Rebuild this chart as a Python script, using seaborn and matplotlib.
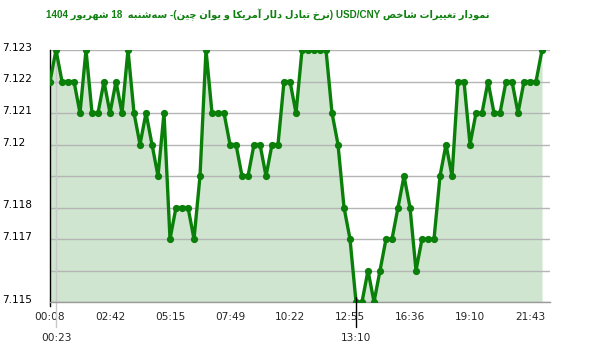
import re
import matplotlib
matplotlib.use("Agg")
import matplotlib.pyplot as plt
import matplotlib.transforms as mtransforms
import seaborn as sns
import pandas as pd

title = "نمودار تغییرات شاخص USD/CNY (نرخ تبادل دلار آمریکا و یوان چین)- سه\u200cشنبه  18 شهریور 1404"

rate = [7.122, 7.123, 7.122, 7.122, 7.122, 7.121, 7.123, 7.121, 7.121, 7.122,
        7.121, 7.122, 7.121, 7.123, 7.121, 7.120, 7.121, 7.120, 7.119, 7.121,
        7.117, 7.118, 7.118, 7.118, 7.117, 7.119, 7.123, 7.121, 7.121, 7.121,
        7.120, 7.120, 7.119, 7.119, 7.120, 7.120, 7.119, 7.120, 7.120, 7.122,
        7.122, 7.121, 7.123, 7.123, 7.123, 7.123, 7.123, 7.121, 7.120, 7.118,
        7.117, 7.115, 7.115, 7.116, 7.115, 7.116, 7.117, 7.117, 7.118, 7.119,
        7.118, 7.116, 7.117, 7.117, 7.117, 7.119, 7.120, 7.119, 7.122, 7.122,
        7.120, 7.121, 7.121, 7.122, 7.121, 7.121, 7.122, 7.122, 7.121, 7.122,
        7.122, 7.122, 7.123]

time_pos = [0, 10, 20, 30, 40, 50, 60, 70, 80]
time_lab = ["00:08", "02:42", "05:15", "07:49", "10:22", "12:55", "16:36", "19:10", "21:43"]
extra_pos = [1, 51]
extra_lab = ["00:23", "13:10"]

ytick_vals = [7.115, 7.117, 7.118, 7.12, 7.121, 7.122, 7.123]
ytick_lab = ["7.115", "7.117", "7.118", "7.12", "7.121", "7.122", "7.123"]
ygrid_vals = [7.116, 7.119]

# --- tiny persian shaper, matplotlib draws no contextual forms ---
# letter: (isolated, final, initial, medial); two entries = joins only to the right
FORMS = {
    'ا': ('\uFE8D', '\uFE8E'), 'آ': ('\uFE81', '\uFE82'),
    'د': ('\uFEA9', '\uFEAA'), 'ذ': ('\uFEAB', '\uFEAC'),
    'ر': ('\uFEAD', '\uFEAE'), 'ز': ('\uFEAF', '\uFEB0'),
    'ژ': ('\uFB8A', '\uFB8B'), 'و': ('\uFEED', '\uFEEE'),
    'ب': ('\uFE8F', '\uFE90', '\uFE91', '\uFE92'),
    'ت': ('\uFE95', '\uFE96', '\uFE97', '\uFE98'),
    'ج': ('\uFE9D', '\uFE9E', '\uFE9F', '\uFEA0'),
    'ح': ('\uFEA1', '\uFEA2', '\uFEA3', '\uFEA4'),
    'خ': ('\uFEA5', '\uFEA6', '\uFEA7', '\uFEA8'),
    'س': ('\uFEB1', '\uFEB2', '\uFEB3', '\uFEB4'),
    'ش': ('\uFEB5', '\uFEB6', '\uFEB7', '\uFEB8'),
    'ص': ('\uFEB9', '\uFEBA', '\uFEBB', '\uFEBC'),
    'غ': ('\uFECD', '\uFECE', '\uFECF', '\uFED0'),
    'ف': ('\uFED1', '\uFED2', '\uFED3', '\uFED4'),
    'ق': ('\uFED5', '\uFED6', '\uFED7', '\uFED8'),
    'ل': ('\uFEDD', '\uFEDE', '\uFEDF', '\uFEE0'),
    'م': ('\uFEE1', '\uFEE2', '\uFEE3', '\uFEE4'),
    'ن': ('\uFEE5', '\uFEE6', '\uFEE7', '\uFEE8'),
    'ه': ('\uFEE9', '\uFEEA', '\uFEEB', '\uFEEC'),
    'ی': ('\uFBFC', '\uFBFD', '\uFBFE', '\uFBFF'),
    'ک': ('\uFB8E', '\uFB8F', '\uFB90', '\uFB91'),
    'گ': ('\uFB92', '\uFB93', '\uFB94', '\uFB95'),
    'پ': ('\uFB56', '\uFB57', '\uFB58', '\uFB59'),
    'چ': ('\uFB7A', '\uFB7B', '\uFB7C', '\uFB7D'),
}


def shape(s):
    out = []
    for i, ch in enumerate(s):
        f = FORMS.get(ch)
        if f is None:
            out.append(ch)
            continue
        prev = s[i - 1] if i > 0 else ''
        nxt = s[i + 1] if i + 1 < len(s) else ''
        jp = prev in FORMS and len(FORMS[prev]) == 4
        jn = len(f) == 4 and nxt in FORMS
        if jp and jn:
            out.append(f[3])
        elif jp:
            out.append(f[1])
        elif jn:
            out.append(f[2])
        else:
            out.append(f[0])
    return ''.join(out).replace('\u200c', '')


def rtl(s):
    s = shape(s)
    runs = re.findall(r'[A-Za-z0-9](?:[A-Za-z0-9/.]*[A-Za-z0-9])?|[^A-Za-z0-9]+', s)
    mirror = str.maketrans('()', ')(')
    parts = []
    for r in reversed(runs):
        if re.match(r'[A-Za-z0-9]', r):
            parts.append(r)
        else:
            parts.append(r[::-1].translate(mirror))
    return ''.join(parts)


sns.set_style("white")
plt.rcParams['font.family'] = ['DejaVu Sans']

df = pd.DataFrame({"idx": range(len(rate)), "rate": rate})

fig = plt.figure(figsize=(6.0, 3.52), dpi=100)
ax = fig.add_axes([50 / 600, 1 - 302 / 352, 500 / 600, 252 / 352])

ax.fill_between(df["idx"], df["rate"], 7.115, color="#cfe5cf", lw=0, zorder=1)
sns.lineplot(data=df, x="idx", y="rate", ax=ax, color="#0a800a", lw=2.4,
             marker="o", markersize=5.2, markeredgewidth=0, zorder=4)

ax.set_xlim(0, 83.33)
ax.set_ylim(7.115, 7.123)

# horizontal grid
for v in ytick_vals + ygrid_vals:
    ax.axhline(v, color="#b5b5b5", lw=1, zorder=2)

ax.set_yticks(ytick_vals)
ax.set_yticklabels(ytick_lab)
ax.tick_params(axis="y", direction="out", length=3.6, width=1, color="black",
               pad=30.5, labelsize=7.6, labelcolor="black")
off = mtransforms.ScaledTranslation(0, 3 / 100, fig.dpi_scale_trans)
for t in ax.get_yticklabels():
    t.set_horizontalalignment("left")
    t.set_transform(t.get_transform() + off)

ax.set_xticks(time_pos)
ax.set_xticklabels(time_lab)
ax.set_xticks(extra_pos, minor=True)
ax.set_xticklabels(extra_lab, minor=True)
ax.tick_params(axis="x", which="major", direction="in", length=3.6, width=1,
               color="black", pad=7, labelsize=7.6)
ax.tick_params(axis="x", which="minor", length=0, pad=22, labelsize=7.6)

# vertical markers for the second row labels
ax.axvline(1, ymin=-25 / 252, ymax=1, color="#c8c8c8", lw=1, clip_on=False, zorder=2)
ax.axvline(51, ymin=-25 / 252, ymax=5 / 252, color="black", lw=1, clip_on=False, zorder=5)

for side in ["top", "right"]:
    ax.spines[side].set_visible(False)
ax.spines["left"].set_color("black")
ax.spines["left"].set_linewidth(1)
ax.spines["left"].set_bounds(7.115 - 0.00013, 7.123)
ax.spines["bottom"].set_color("#9a9a9a")
ax.spines["bottom"].set_linewidth(1)
ax.set_xlabel("")
ax.set_ylabel("")

fig.text(268 / 600, 1 - 15 / 352, rtl(title), ha="center", va="center",
         color="#108010", fontsize=7.1, fontweight="bold",
         family=["Liberation Sans", "DejaVu Sans"])

fig.savefig("out.png", dpi=100)
